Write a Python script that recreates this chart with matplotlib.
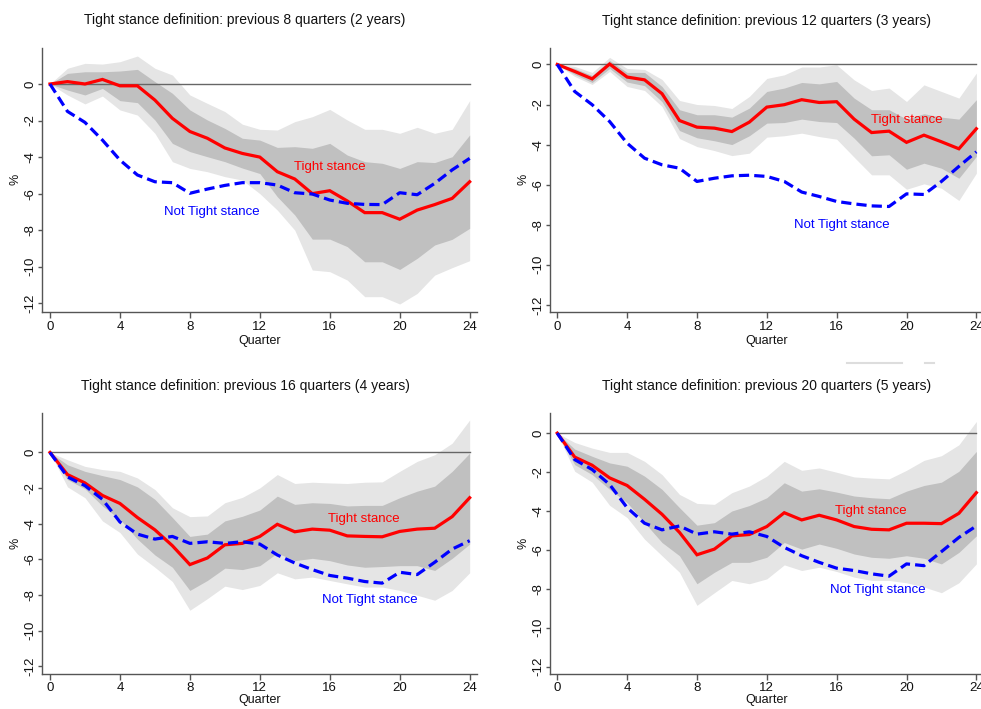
import numpy as np
import matplotlib
matplotlib.use("Agg")
import matplotlib.pyplot as plt
from matplotlib.lines import Line2D

plt.rcParams["font.family"] = ["Liberation Sans", "DejaVu Sans"]

quarters = list(range(25))

titles = [
    "Tight stance definition: previous 8 quarters (2 years)",
    "Tight stance definition: previous 12 quarters (3 years)",
    "Tight stance definition: previous 16 quarters (4 years)",
    "Tight stance definition: previous 20 quarters (5 years)",
]

# ---- Panel 1: 8 quarters ----
tight_8 = [0, 0.13, 0.0, 0.25, -0.1, -0.1, -0.88, -1.88, -2.6, -2.97, -3.5, -3.8,
           -4.0, -4.8, -5.2, -6.0, -5.84, -6.4, -7.04, -7.04, -7.4, -6.9, -6.6, -6.26, -5.35]
not_tight_8 = [0, -1.5, -2.1, -3.07, -4.16, -4.98, -5.35, -5.4, -5.98, -5.75, -5.55, -5.4,
               -5.4, -5.53, -5.95, -6.02, -6.35, -6.53, -6.59, -6.6, -5.95, -6.06, -5.44, -4.7, -4.07]
inner_hi_8 = [0, 0.58, 0.67, 0.67, 0.71, 0.8, 0.13, -0.51, -1.42, -1.97, -2.43, -2.97,
              -3.07, -3.47, -3.43, -3.52, -3.25, -3.89, -4.25, -4.34, -4.62, -4.25, -4.3, -3.98, -2.79]
inner_lo_8 = [0, -0.33, -0.6, -0.24, -0.91, -1.02, -1.97, -3.25, -3.7, -3.98, -4.25, -4.6,
              -4.9, -6.17, -7.17, -8.49, -8.49, -8.9, -9.73, -9.73, -10.15, -9.54, -8.81, -8.5, -7.9]
outer_hi_8 = [0, 0.86, 1.13, 1.09, 1.22, 1.53, 0.86, 0.49, -0.6, -1.06, -1.51, -2.2,
              -2.48, -2.52, -2.06, -1.79, -1.39, -1.97, -2.48, -2.48, -2.7, -2.37, -2.7, -2.48, -0.91]
outer_lo_8 = [0, -0.6, -1.09, -0.66, -1.42, -1.7, -2.7, -4.25, -4.62, -4.8, -5.07, -5.26,
              -6.0, -6.9, -8.0, -10.18, -10.27, -10.73, -11.64, -11.64, -12.04, -11.46, -10.46, -10.05, -9.67]

# ---- Panel 2: 12 quarters ----
tight_12 = [0, -0.35, -0.72, 0.02, -0.63, -0.77, -1.46, -2.8, -3.13, -3.18, -3.35, -2.88,
            -2.13, -2.01, -1.76, -1.9, -1.86, -2.73, -3.4, -3.33, -3.89, -3.53, -3.86, -4.21, -3.21]
not_tight_12 = [0, -1.35, -2.01, -2.85, -3.93, -4.68, -5.01, -5.18, -5.84, -5.68, -5.56, -5.53,
                -5.59, -5.84, -6.37, -6.59, -6.84, -6.96, -7.06, -7.09, -6.46, -6.49, -5.84, -5.09, -4.36]
inner_hi_12 = [0, -0.2, -0.55, 0.2, -0.4, -0.4, -1.1, -2.26, -2.51, -2.51, -2.63, -2.18,
               -1.35, -1.18, -0.9, -0.97, -0.85, -1.68, -2.26, -2.26, -2.73, -2.46, -2.63, -2.73, -1.76]
inner_lo_12 = [0, -0.5, -0.9, -0.2, -0.88, -1.06, -1.86, -3.3, -3.66, -3.81, -4.0, -3.56,
               -2.93, -2.9, -2.73, -2.85, -2.9, -3.68, -4.56, -4.51, -5.23, -4.93, -5.18, -5.68, -4.59]
outer_hi_12 = [0, -0.1, -0.4, 0.35, -0.2, -0.25, -0.75, -1.8, -2.0, -2.05, -2.2, -1.6,
               -0.7, -0.52, -0.13, -0.13, -0.02, -0.77, -1.3, -1.18, -1.85, -1.02, -1.35, -1.68, -0.43]
outer_lo_12 = [0, -0.6, -1.0, -0.35, -1.1, -1.3, -2.1, -3.7, -4.1, -4.3, -4.55, -4.43,
               -3.63, -3.56, -3.43, -3.6, -3.73, -4.63, -5.51, -5.51, -6.23, -5.96, -6.18, -6.79, -5.43]

# ---- Panel 3: 16 quarters ----
tight_16 = [0, -1.24, -1.71, -2.41, -2.86, -3.65, -4.34, -5.23, -6.29, -5.92, -5.18, -5.1,
            -4.71, -4.03, -4.45, -4.3, -4.36, -4.68, -4.71, -4.73, -4.43, -4.3, -4.25, -3.6, -2.54]
not_tight_16 = [0, -1.37, -1.86, -2.63, -3.9, -4.58, -4.86, -4.71, -5.1, -5.01, -5.1, -5.01,
                -5.14, -5.75, -6.2, -6.57, -6.9, -7.05, -7.24, -7.33, -6.72, -6.85, -6.16, -5.42, -4.95]
inner_hi_16 = [0, -0.69, -1.06, -1.3, -1.52, -1.93, -2.63, -3.65, -4.71, -4.58, -3.84, -3.58,
               -3.23, -2.45, -2.91, -2.82, -2.86, -3.0, -2.97, -2.97, -2.54, -2.17, -1.89, -1.06, -0.04]
inner_lo_16 = [0, -1.52, -2.04, -3.0, -3.75, -4.86, -5.75, -6.44, -7.74, -7.18, -6.49, -6.57,
               -6.35, -5.64, -6.07, -5.94, -6.07, -6.31, -6.44, -6.4, -6.35, -6.35, -6.62, -5.94, -5.14]
outer_hi_16 = [0, -0.41, -0.78, -0.96, -1.06, -1.43, -2.08, -3.1, -3.6, -3.56, -2.82, -2.52,
               -1.99, -1.24, -1.74, -1.67, -1.71, -1.74, -1.67, -1.65, -1.06, -0.5, -0.13, 0.52, 1.82]
outer_lo_16 = [0, -1.93, -2.54, -3.84, -4.49, -5.7, -6.44, -7.24, -8.85, -8.2, -7.5, -7.69,
               -7.46, -6.75, -7.09, -6.99, -7.18, -7.37, -7.55, -7.55, -7.74, -8.01, -8.29, -7.74, -6.75]

# ---- Panel 4: 20 quarters ----
tight_20 = [0, -1.23, -1.65, -2.3, -2.69, -3.4, -4.17, -5.1, -6.25, -5.96, -5.28, -5.21,
            -4.8, -4.09, -4.46, -4.22, -4.46, -4.8, -4.94, -4.97, -4.63, -4.63, -4.65, -4.12, -3.06]
not_tight_20 = [0, -1.36, -1.87, -2.64, -3.83, -4.63, -4.97, -4.77, -5.19, -5.07, -5.19, -5.07,
                -5.31, -5.87, -6.3, -6.64, -6.94, -7.06, -7.23, -7.35, -6.72, -6.81, -6.09, -5.36, -4.77]
inner_hi_20 = [0, -0.82, -1.19, -1.53, -1.7, -2.21, -2.89, -3.83, -4.73, -4.6, -4.0, -3.72,
               -3.32, -2.55, -2.98, -2.86, -3.03, -3.23, -3.32, -3.37, -2.98, -2.69, -2.52, -1.96, -0.94]
inner_lo_20 = [0, -1.62, -2.13, -2.89, -3.57, -4.6, -5.62, -6.3, -7.74, -7.15, -6.64, -6.64,
               -6.38, -5.62, -5.96, -5.7, -5.92, -6.21, -6.38, -6.43, -6.3, -6.43, -6.72, -6.13, -5.28]
outer_hi_20 = [0, -0.48, -0.77, -0.99, -0.99, -1.45, -2.13, -3.15, -3.61, -3.66, -3.06, -2.72,
               -2.21, -1.45, -1.91, -1.79, -2.01, -2.25, -2.31, -2.35, -1.91, -1.4, -1.16, -0.6, 0.6]
outer_lo_20 = [0, -1.96, -2.52, -3.71, -4.34, -5.45, -6.3, -7.15, -8.85, -8.2, -7.57, -7.74,
               -7.49, -6.77, -7.06, -6.89, -7.11, -7.4, -7.57, -7.57, -7.69, -7.91, -8.2, -7.69, -6.72]

panels = [
    dict(tight=tight_8, not_tight=not_tight_8, ihi=inner_hi_8, ilo=inner_lo_8,
         ohi=outer_hi_8, olo=outer_lo_8, ylim=(-12.46, 1.97),
         pos=[0.0431, 0.5604, 0.4435, 0.3719], title_xy=(245, 20), xpad=3, xlpad=1,
         tight_lab=(16.0, -4.55), nt_lab=(9.26, -7.0)),
    dict(tight=tight_12, not_tight=not_tight_12, ihi=inner_hi_12, ilo=inner_lo_12,
         ohi=outer_hi_12, olo=outer_lo_12, ylim=(-12.34, 0.82),
         pos=[0.5602, 0.5604, 0.4429, 0.3719], title_xy=(767, 21), xpad=3, xlpad=1,
         tight_lab=(20.0, -2.76), nt_lab=(16.3, -8.0)),
    dict(tight=tight_16, not_tight=not_tight_16, ihi=inner_hi_16, ilo=inner_lo_16,
         ohi=outer_hi_16, olo=outer_lo_16, ylim=(-12.43, 2.23),
         pos=[0.0431, 0.0493, 0.4435, 0.3686], title_xy=(245, 386), xpad=2, xlpad=0,
         tight_lab=(17.95, -3.75), nt_lab=(18.3, -8.26)),
    dict(tight=tight_20, not_tight=not_tight_20, ihi=inner_hi_20, ilo=inner_lo_20,
         ohi=outer_hi_20, olo=outer_lo_20, ylim=(-12.38, 1.05),
         pos=[0.5602, 0.0493, 0.4429, 0.3686], title_xy=(767, 386), xpad=2, xlpad=0,
         tight_lab=(17.95, -4.02), nt_lab=(18.35, -8.05)),
]

LIGHT = "#e5e5e5"
DARK = "#c0c0c0"
AXC = "#555555"
W, H = 981, 709

fig = plt.figure(figsize=(9.81, 7.09), dpi=100)

for p, title in zip(panels, titles):
    ax = fig.add_axes(p["pos"])
    ax.fill_between(quarters, p["olo"], p["ohi"], color=LIGHT, lw=0)
    ax.fill_between(quarters, p["ilo"], p["ihi"], color=DARK, lw=0)
    ax.plot([0, 24], [0, 0], color="#666666", lw=1.0)
    ax.plot(quarters, p["tight"], color="#ff0000", lw=2.3, solid_joinstyle="miter")
    ax.plot(quarters, p["not_tight"], color="#0000ff", lw=2.3, dashes=(3.2, 1.6))
    ax.text(*p["tight_lab"], "Tight stance", color="#ff0000", fontsize=9.5,
            ha="center", va="center")
    ax.text(*p["nt_lab"], "Not Tight stance", color="#0000ff", fontsize=9.5,
            ha="center", va="center")

    ax.set_xlim(-0.44, 24.44)
    ax.set_ylim(*p["ylim"])
    ax.set_xticks(range(0, 25, 4))
    ax.set_yticks(range(-12, 1, 2))
    ax.set_yticklabels([str(v) for v in range(-12, 1, 2)], rotation=90, va="center")
    for s in ("top", "right"):
        ax.spines[s].set_visible(False)
    for s in ("left", "bottom"):
        ax.spines[s].set_color(AXC)
        ax.spines[s].set_linewidth(1.0)
    ax.tick_params(axis="both", colors=AXC, labelcolor="#111111", labelsize=9.5,
                   width=1.0, direction="out")
    ax.tick_params(axis="y", length=3, pad=1)
    ax.tick_params(axis="x", length=4, pad=p["xpad"])
    ax.set_xlabel("Quarter", fontsize=9, color="#111111", labelpad=p["xlpad"])
    ax.set_ylabel("%", fontsize=9, color="#111111", labelpad=2)

    tx, ty = p["title_xy"]
    fig.text(tx / W, 1 - ty / H, title, fontsize=10, color="#111111",
             ha="center", va="center")

# faint rule between the upper-right and lower-right panels
fig.add_artist(Line2D([847 / W, 902 / W], [1 - 362.7 / H] * 2,
                      color="#dddddd", lw=1.5))
fig.add_artist(Line2D([925 / W, 934 / W], [1 - 362.7 / H] * 2,
                      color="#dddddd", lw=1.5))

fig.savefig("out.png", dpi=100)
